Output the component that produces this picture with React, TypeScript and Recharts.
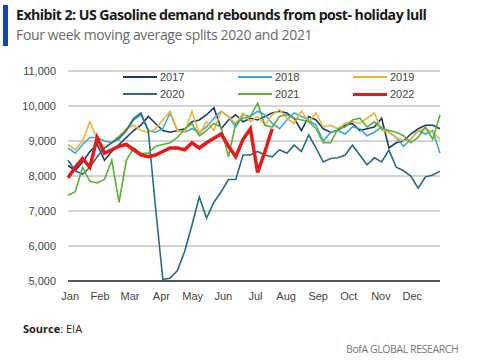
import React from "react";
import { LineChart, Line, XAxis, YAxis, CartesianGrid, Legend } from "recharts";

const weeks: number[] = Array.from({ length: 52 }, (_, i) => i);
const monthLabels = ["Jan", "Feb", "Mar", "Apr", "May", "Jun", "Jul", "Aug", "Sep", "Oct", "Nov", "Dec"];
const monthTickWeeks = [0.3, 4.4, 8.5, 12.8, 17.1, 21.3, 25.7, 29.9, 34.3, 38.5, 42.9, 47.2];
const yTicks = [5000, 6000, 7000, 8000, 9000, 10000, 11000];

const s2017 = [8300, 8150, 8400, 8700, 8900, 8450, 8700, 8900, 9100, 9300, 9450, 9700, 9500, 9300, 9250, 9300, 9350, 9550, 9600, 9750, 9950, 9350, 9600, 9750, 9550, 9650, 9600, 9700, 9800, 9850, 9800, 9650, 9300, 9700, 9600, 9350, 9250, 9300, 9450, 9500, 9300, 9350, 9400, 9650, 8800, 8950, 9000, 9200, 9350, 9450, 9450, 9350];
const s2018 = [8800, 8650, 8900, 9100, 9100, 9000, 8950, 9050, 9300, 9600, 9750, 9300, 9250, 9350, 9800, 9300, 9250, 9350, 9250, 9400, 9650, 9850, 9700, 9400, 9750, 9700, 9850, 9750, 9500, 9350, 9600, 9800, 9700, 9600, 9450, 9000, 9250, 9300, 9200, 9400, 9350, 9150, 9250, 9400, 9250, 9100, 8850, 9050, 9300, 9200, 9300, 8650];
const s2019 = [8900, 8750, 9000, 9550, 9050, 8800, 8950, 9150, 9350, 9450, 9300, 9250, 9350, 9600, 9850, 9300, 9250, 9850, 9200, 9550, 9300, 9850, 9700, 9500, 9800, 9550, 9700, 9450, 9750, 9900, 9650, 9500, 9850, 9550, 9800, 9400, 9450, 9350, 9500, 9550, 9500, 9650, 9800, 9300, 9250, 9100, 9000, 9050, 9300, 9350, 9250, 9050];
const s2020 = [8450, 8150, 8050, 8250, 8550, 8800, 8950, 9100, 9300, 9650, 9800, 9300, 7100, 5050, 5080, 5300, 5850, 6600, 7400, 6800, 7250, 7550, 7900, 7900, 8600, 8600, 8700, 8600, 8550, 8750, 8650, 8880, 8700, 9170, 8800, 8400, 8500, 8520, 8600, 8880, 8600, 8320, 8520, 8400, 8740, 8250, 8150, 8000, 7650, 7970, 8030, 8140];
const s2021 = [7450, 7550, 8250, 7850, 7800, 7900, 8450, 7250, 8450, 8800, 8650, 8650, 8850, 8900, 8950, 9100, 9350, 9500, 9150, 9300, 9500, 9400, 8550, 9500, 9650, 9700, 10080, 9450, 9400, 9700, 9750, 9650, 9600, 9550, 9350, 8950, 8950, 9350, 9400, 9600, 9650, 9400, 9550, 9350, 9300, 9250, 9150, 8950, 9100, 9400, 9050, 9750];
const s2022 = [7950, 8250, 8500, 8250, 9100, 8650, 8750, 8850, 8900, 8750, 8600, 8550, 8600, 8700, 8800, 8800, 8750, 8950, 8800, 8950, 9080, 9200, 8850, 8550, 9050, 9350, 8100, 8700, 9350];

const seriesDefs = [
  { key: "y2017", name: "2017", values: s2017, color: "#1c3a70", width: 1.6 },
  { key: "y2018", name: "2018", values: s2018, color: "#3ea6da", width: 1.6 },
  { key: "y2019", name: "2019", values: s2019, color: "#eab43e", width: 1.6 },
  { key: "y2020", name: "2020", values: s2020, color: "#2c6b7c", width: 1.6 },
  { key: "y2021", name: "2021", values: s2021, color: "#5fae3c", width: 1.6 },
  { key: "y2022", name: "2022", values: s2022, color: "#e31b1b", width: 3.5 },
];

const data = weeks.map((w, i) => {
  const row: Record<string, number | undefined> = { week: w };
  seriesDefs.forEach((s) => {
    row[s.key] = i < s.values.length ? s.values[i] : undefined;
  });
  return row;
});

const renderLegend = () => (
  <div
    style={{
      display: "grid",
      gridTemplateColumns: "repeat(3, 115px)",
      rowGap: 3,
      paddingLeft: 123,
      fontFamily: "'Liberation Sans', Arial, sans-serif",
      fontSize: 11,
      color: "#444",
    }}
  >
    {seriesDefs.map((s) => (
      <div key={s.key} style={{ display: "flex", alignItems: "center", height: 14 }}>
        <span
          style={{
            display: "inline-block",
            width: 34,
            height: s.width > 2 ? 3 : 2,
            background: s.color,
            marginRight: 3,
          }}
        />
        <span>{s.name}</span>
      </div>
    ))}
  </div>
);

export default function App() {
  return (
    <div
      style={{
        position: "absolute",
        left: 0,
        top: 0,
        width: 485,
        height: 360,
        background: "#fff",
        overflow: "hidden",
      }}
    >
      <div style={{ position: "absolute", left: 3, top: 5, width: 5, height: 41, background: "#1747a6" }} />
      <div
        style={{
          position: "absolute",
          left: 16,
          top: 5,
          fontFamily: "'Open Sans', sans-serif",
          fontWeight: 700,
          fontSize: 14.2,
          color: "#1a1a1a",
          whiteSpace: "nowrap",
          letterSpacing: -0.55,
        }}
      >
        Exhibit 2: US Gasoline demand rebounds from post- holiday lull
      </div>
      <div
        style={{
          position: "absolute",
          left: 16,
          top: 25,
          fontFamily: "'Open Sans', sans-serif",
          fontWeight: 400,
          fontSize: 14,
          color: "#6a6a6a",
          whiteSpace: "nowrap",
          letterSpacing: -0.35,
        }}
      >
        Four week moving average splits 2020 and 2021
      </div>
      <div style={{ position: "absolute", left: 0, top: 0 }}>
        <LineChart width={485} height={360} data={data} margin={{ top: 71, right: 45, bottom: 49, left: 0 }}>
          <CartesianGrid vertical={false} stroke="#c4c4c4" strokeWidth={1.5} />
          <XAxis
            dataKey="week"
            type="number"
            domain={[0, 51]}
            ticks={monthTickWeeks}
            tickFormatter={(v: number) => monthLabels[monthTickWeeks.indexOf(v)] ?? ""}
            axisLine={{ stroke: "#555", strokeWidth: 2 }}
            tickLine={false}
            tickSize={0}
            tickMargin={11}
            interval={0}
            height={30}
            tick={{ fontFamily: "'Liberation Sans', Arial, sans-serif", fontSize: 11, fill: "#444" }}
          />
          <YAxis
            domain={[5000, 11000]}
            ticks={yTicks}
            width={68}
            axisLine={false}
            tickLine={false}
            tickSize={0}
            tickMargin={12}
            tickFormatter={(v: number) => v.toLocaleString("en-US")}
            tick={{ fontFamily: "'Liberation Sans', Arial, sans-serif", fontSize: 11, fill: "#444" }}
          />
          <Legend
            content={renderLegend}
            layout="vertical"
            align="center"
            verticalAlign="middle"
            wrapperStyle={{ position: "absolute", left: 0, top: 70, width: 485 }}
          />
          {seriesDefs.map((s) => (
            <Line
              key={s.key}
              dataKey={s.key}
              name={s.name}
              stroke={s.color}
              strokeWidth={s.width}
              dot={false}
              activeDot={false}
              isAnimationActive={false}
              connectNulls={false}
            />
          ))}
        </LineChart>
      </div>
      <div
        style={{
          position: "absolute",
          left: 23,
          top: 321,
          fontFamily: "'Open Sans', sans-serif",
          fontSize: 11,
          color: "#222",
        }}
      >
        <b>Source</b>: EIA
      </div>
      <div
        style={{
          position: "absolute",
          left: 346,
          top: 342,
          fontFamily: "'Open Sans', sans-serif",
          fontSize: 10.5,
          color: "#777",
          letterSpacing: -0.4,
        }}
      >
        BofA GLOBAL RESEARCH
      </div>
    </div>
  );
}
